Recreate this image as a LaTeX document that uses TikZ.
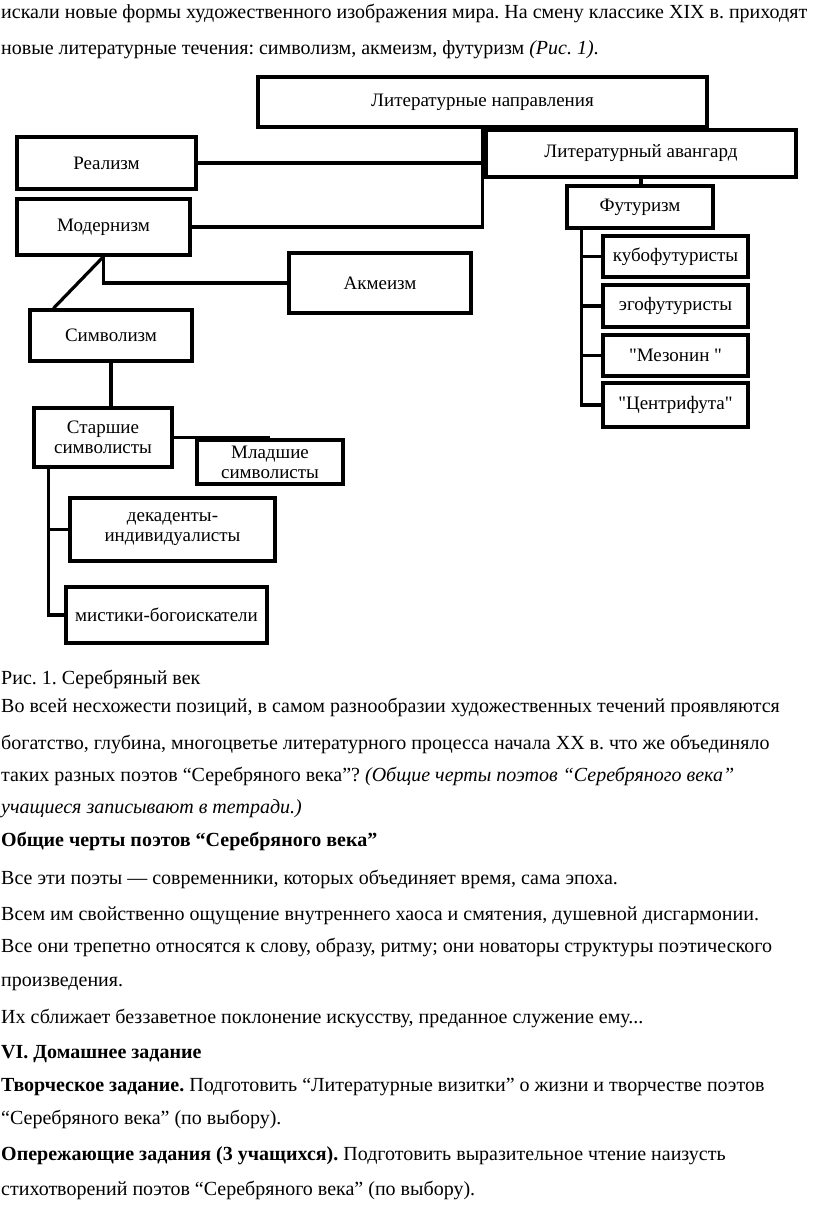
\documentclass[tikz,border=0pt]{standalone}
\usepackage{fontspec}
\setmainfont{Liberation Serif}
\newfontfamily\schemefont[Ligatures=TeXOff]{Liberation Serif}
\frenchspacing

\begin{document}
\begin{tikzpicture}[
    x=1pt, y=-1pt,
    box/.style={draw, line width=3.2pt, align=center, inner sep=0pt,
      font=\schemefont\fontsize{19}{20}\selectfont},
    link/.style={line width=3.2pt},
    txt/.style={anchor=base west, inner sep=0pt, font=\fontsize{20}{24}\selectfont}
  ]
    \useasboundingbox (0,0) rectangle (816,1212);

    % text above the scheme
    \node[txt] (l1) at (1,19) {искали новые формы художественного изображения мира. На смену классике XIX в. приходят};
    \node[txt] (l2) at (1,55) {новые литературные течения: символизм, акмеизм, футуризм \textit{(Рис. 1)}.};

    % scheme
    \node[box, minimum width=449pt, minimum height=50pt] (napr) at (482.5,102) {Литературные направления};
    \node[box, minimum width=179pt, minimum height=52pt] (realism) at (106.5,163) {Реализм};
    \node[box, minimum width=173pt, minimum height=56pt] (modern) at (103.5,227) {Модернизм};
    \node[box, minimum width=310pt, minimum height=47pt] (avangard) at (641,153.5) {Литературный авангард};
    \node[box, minimum width=146pt, minimum height=42pt] (futur) at (640,207) {Футуризм};
    \node[box, minimum width=145pt, minimum height=41pt] (kubo) at (675.5,256.5) {кубофутуристы};
    \node[box, minimum width=145pt, minimum height=42pt] (ego) at (675.5,306) {эгофутуристы};
    \node[box, minimum width=145pt, minimum height=41pt] (mezonin) at (675.5,355.5) {"Мезонин "};
    \node[box, minimum width=145pt, minimum height=44pt] (centri) at (675.5,405) {"Центрифута"};
    \node[box, minimum width=182pt, minimum height=60pt] (akme) at (380,283) {Акмеизм};
    \node[box, minimum width=162pt, minimum height=51pt] (simvol) at (111,335.5) {Символизм};
    \node[box, minimum width=138pt, minimum height=59pt] (starsh) at (103,437.5) {Старшие\\символисты};
    \node[box, minimum width=146pt, minimum height=44pt] (mladsh) at (270,462) {Младшие\\символисты};
    \node[box, minimum width=205pt, minimum height=63pt] (dekad) at (172.5,529.5) {декаденты-\\индивидуалисты};
    \node[box, minimum width=201pt, minimum height=56pt] (mistik) at (166.5,615) {мистики-богоискатели};

    \draw[link] (napr.south) -- (napr.south |- modern.east) -- (modern.east);
    \draw[link] (realism.east) -- (realism.east -| napr.south);
    \draw[link] (avangard.south) -- (avangard.south |- futur.north);
    \coordinate (ft) at ([xshift=16pt]futur.south west);
    \draw[link] (ft) |- (centri.west);
    \foreach \n in {kubo,ego,mezonin} {
      \draw[link] (ft |- \n.west) -- (\n.west);
    }
    \draw[link] (modern.south) |- (akme.west);
    \draw[link] (modern.south) -- ([xshift=25pt]simvol.north west);
    \draw[link] (simvol.south) -- (simvol.south |- starsh.north);
    \draw[link] (starsh.east) -- (starsh.east -| mladsh.north);
    \coordinate (st) at ([xshift=16pt]starsh.south west);
    \draw[link] (st) |- (mistik.west);
    \draw[link] (st |- dekad.west) -- (dekad.west);

    % text below the scheme
    \node[txt] (cap) at (1,684) {Рис. 1. Серебряный век};
    \node[txt] (p1) at (1,712) {Во всей несхожести позиций, в самом разнообразии художественных течений проявляются};
    \node[txt] (p2) at (1,749) {богатство, глубина, многоцветье литературного процесса начала XX в. что же объединяло};
    \node[txt] (p3) at (1,781) {таких разных поэтов “Серебряного века”? \textit{(Общие черты поэтов “Серебряного века”}};
    \node[txt] (p4) at (1,813) {\textit{учащиеся записывают в тетради.)}};
    \node[txt] (h1) at (1,846) {\textbf{Общие черты поэтов “Серебряного века”}};
    \node[txt] (q1) at (1,884) {Все эти поэты — современники, которых объединяет время, сама эпоха.};
    \node[txt] (q2) at (1,920) {Всем им свойственно ощущение внутреннего хаоса и смятения, душевной дисгармонии.};
    \node[txt] (q3) at (1,952) {Все они трепетно относятся к слову, образу, ритму; они новаторы структуры поэтического};
    \node[txt] (q4) at (1,986) {произведения.};
    \node[txt] (q5) at (1,1023) {Их сближает беззаветное поклонение искусству, преданное служение ему...};
    \node[txt] (h2) at (1,1058) {\textbf{VI. Домашнее задание}};
    \node[txt] (t1) at (1,1091) {\textbf{Творческое задание.} Подготовить “Литературные визитки” о жизни и творчестве поэтов};
    \node[txt] (t2) at (1,1124) {“Серебряного века” (по выбору).};
    \node[txt] (t3) at (1,1160) {\textbf{Опережающие задания (3 учащихся).} Подготовить выразительное чтение наизусть};
    \node[txt] (t4) at (1,1195) {стихотворений поэтов “Серебряного века” (по выбору).};
  \end{tikzpicture}
\end{document}
